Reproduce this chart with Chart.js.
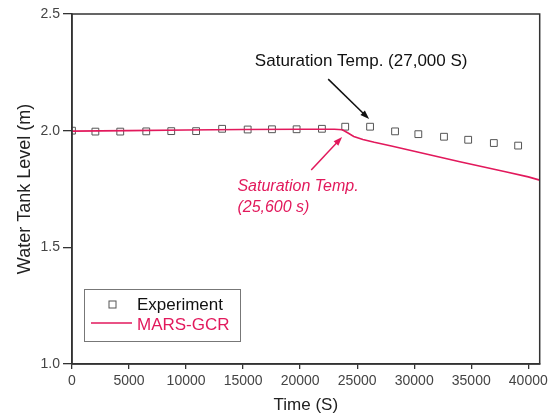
<!DOCTYPE html>
<html><head><meta charset="utf-8">
<script src="https://cdn.jsdelivr.net/npm/chart.js@4/dist/chart.umd.min.js"></script>
<style>html,body{margin:0;padding:0;background:#fff;}canvas{display:block;}</style>
</head><body>
<canvas id="c" width="552" height="419"></canvas>
<script>
// ---- data ----
const expTime  = [0, 2050, 4230, 6510, 8700, 10880, 13160, 15400, 17530, 19690, 21910, 23950, 26130, 28320, 30360, 32610, 34730, 36980, 39110];
const expLevel = [2.000, 1.996, 1.996, 1.997, 1.998, 1.998, 2.008, 2.005, 2.006, 2.006, 2.008, 2.017, 2.017, 1.997, 1.985, 1.974, 1.961, 1.947, 1.936];
const marsTime  = [0, 5000, 10000, 15000, 20000, 23000, 23700, 24200, 24700, 25500, 26500, 28000, 30000, 32000, 34000, 36000, 38000, 40000, 41000];
const marsLevel = [1.998, 2.000, 2.003, 2.005, 2.006, 2.006, 2.004, 1.990, 1.975, 1.962, 1.950, 1.934, 1.912, 1.889, 1.867, 1.845, 1.824, 1.802, 1.788];
const xTickValues = [0, 5000, 10000, 15000, 20000, 25000, 30000, 35000, 40000];
const yTickValues = [1.0, 1.5, 2.0, 2.5];
const seriesNames = ['Experiment', 'MARS-GCR'];
const xTitle = 'Time (S)';
const yTitle = 'Water Tank Level (m)';
// annotation anchors in data units
const noteBlack = { text: 'Saturation Temp. (27,000 S)', t: 25350, v: 2.299, arrowFrom: [22460, 2.221], arrowTo: [26045, 2.050] };
const noteRed = { lines: ['Saturation Temp.', '(25,600 s)'], t: 14500, v: [1.7585, 1.672], arrowFrom: [20970, 1.831], arrowTo: [23680, 1.973] };

const RED = '#e2195c';
const FONT = "'Liberation Sans', Arial, sans-serif";

function arrow(ctx, x1, y1, x2, y2, color) {
  const ang = Math.atan2(y2 - y1, x2 - x1);
  const L = 9, W = 3.2;
  ctx.strokeStyle = color; ctx.fillStyle = color; ctx.lineWidth = 1.5;
  ctx.beginPath(); ctx.moveTo(x1, y1);
  ctx.lineTo(x2 - L * Math.cos(ang) * 0.8, y2 - L * Math.sin(ang) * 0.8); ctx.stroke();
  ctx.beginPath();
  ctx.moveTo(x2, y2);
  ctx.lineTo(x2 - L * Math.cos(ang) + W * Math.sin(ang), y2 - L * Math.sin(ang) - W * Math.cos(ang));
  ctx.lineTo(x2 - L * Math.cos(ang) - W * Math.sin(ang), y2 - L * Math.sin(ang) + W * Math.cos(ang));
  ctx.closePath(); ctx.fill();
}

const overlay = {
  id: 'overlay',
  afterDraw(chart) {
    const { ctx, chartArea: a, scales: { x, y } } = chart;
    ctx.save();
    // frame
    ctx.strokeStyle = '#333'; ctx.lineWidth = 1.5;
    ctx.strokeRect(a.left, a.top, a.right - a.left, a.bottom - a.top);
    // black annotation
    ctx.font = '17px ' + FONT; ctx.fillStyle = '#111';
    ctx.textAlign = 'center'; ctx.textBaseline = 'middle';
    ctx.fillText(noteBlack.text, x.getPixelForValue(noteBlack.t), y.getPixelForValue(noteBlack.v));
    arrow(ctx, x.getPixelForValue(noteBlack.arrowFrom[0]), y.getPixelForValue(noteBlack.arrowFrom[1]),
      x.getPixelForValue(noteBlack.arrowTo[0]), y.getPixelForValue(noteBlack.arrowTo[1]), '#111');
    // red annotation
    ctx.font = 'italic 16px ' + FONT; ctx.fillStyle = RED; ctx.textAlign = 'left';
    noteRed.lines.forEach((s, i) => ctx.fillText(s, x.getPixelForValue(noteRed.t), y.getPixelForValue(noteRed.v[i])));
    arrow(ctx, x.getPixelForValue(noteRed.arrowFrom[0]), y.getPixelForValue(noteRed.arrowFrom[1]),
      x.getPixelForValue(noteRed.arrowTo[0]), y.getPixelForValue(noteRed.arrowTo[1]), RED);
    // legend
    const bx = a.left + 12, by = a.bottom - 75, bw = 156, bh = 52;
    ctx.fillStyle = '#fff'; ctx.fillRect(bx, by, bw, bh);
    ctx.strokeStyle = '#777'; ctx.lineWidth = 1; ctx.strokeRect(bx + 0.5, by + 0.5, bw, bh);
    ctx.strokeStyle = '#555'; ctx.lineWidth = 1;
    ctx.strokeRect(bx + 25, by + 12, 7, 7);
    ctx.font = '17px ' + FONT; ctx.textBaseline = 'middle'; ctx.textAlign = 'left';
    ctx.fillStyle = '#111'; ctx.fillText(seriesNames[0], bx + 53, by + 16);
    ctx.strokeStyle = RED; ctx.lineWidth = 1.6;
    ctx.beginPath(); ctx.moveTo(bx + 7, by + 34); ctx.lineTo(bx + 48, by + 34); ctx.stroke();
    ctx.fillStyle = RED; ctx.fillText(seriesNames[1], bx + 53, by + 36);
    ctx.restore();
  }
};

new Chart(document.getElementById('c'), {
  type: 'scatter',
  data: {
    datasets: [
      {
        label: seriesNames[0],
        data: expTime.map((t, i) => ({ x: t, y: expLevel[i] })),
        showLine: false, pointStyle: 'rect', pointRadius: 4.8, pointHoverRadius: 4.8,
        borderColor: '#555', backgroundColor: 'rgba(0,0,0,0)', borderWidth: 1, order: 2
      },
      {
        label: seriesNames[1],
        data: marsTime.map((t, i) => ({ x: t, y: marsLevel[i] })),
        showLine: true, pointRadius: 0, borderColor: RED, borderWidth: 1.6, tension: 0, order: 1
      }
    ]
  },
  options: {
    responsive: false, animation: false, devicePixelRatio: 1,
    layout: { padding: { top: 14, right: 10, left: 0, bottom: 0 } },
    plugins: { legend: { display: false }, tooltip: { enabled: false } },
    scales: {
      x: {
        type: 'linear', min: 0, max: 41000,
        afterFit: s => { s.height = 55; },
        afterBuildTicks: s => { s.ticks = xTickValues.map(v => ({ value: v })); },
        ticks: { font: { family: FONT, size: 14 }, color: '#444', padding: 4, maxRotation: 0, autoSkip: false, callback: v => String(v) },
        grid: { drawOnChartArea: false, tickLength: 5, color: '#333', lineWidth: 1.3 },
        border: { color: '#333', width: 1.5 },
        title: { display: true, text: xTitle, font: { family: FONT, size: 17 }, color: '#222', padding: { top: 0, bottom: 3 } }
      },
      y: {
        type: 'linear', min: 1.0, max: 2.5,
        afterFit: s => { s.width = 72; },
        afterBuildTicks: s => { s.ticks = yTickValues.map(v => ({ value: v })); },
        ticks: { font: { family: FONT, size: 14 }, color: '#444', padding: 3, callback: v => Number(v).toFixed(1) },
        grid: { drawOnChartArea: false, tickLength: 9, color: '#333', lineWidth: 1.3 },
        border: { color: '#333', width: 1.5 },
        title: { display: true, text: yTitle, font: { family: FONT, size: 18 }, color: '#222', padding: { top: 14, bottom: 0 } }
      }
    }
  },
  plugins: [overlay]
});
</script>
</body></html>
